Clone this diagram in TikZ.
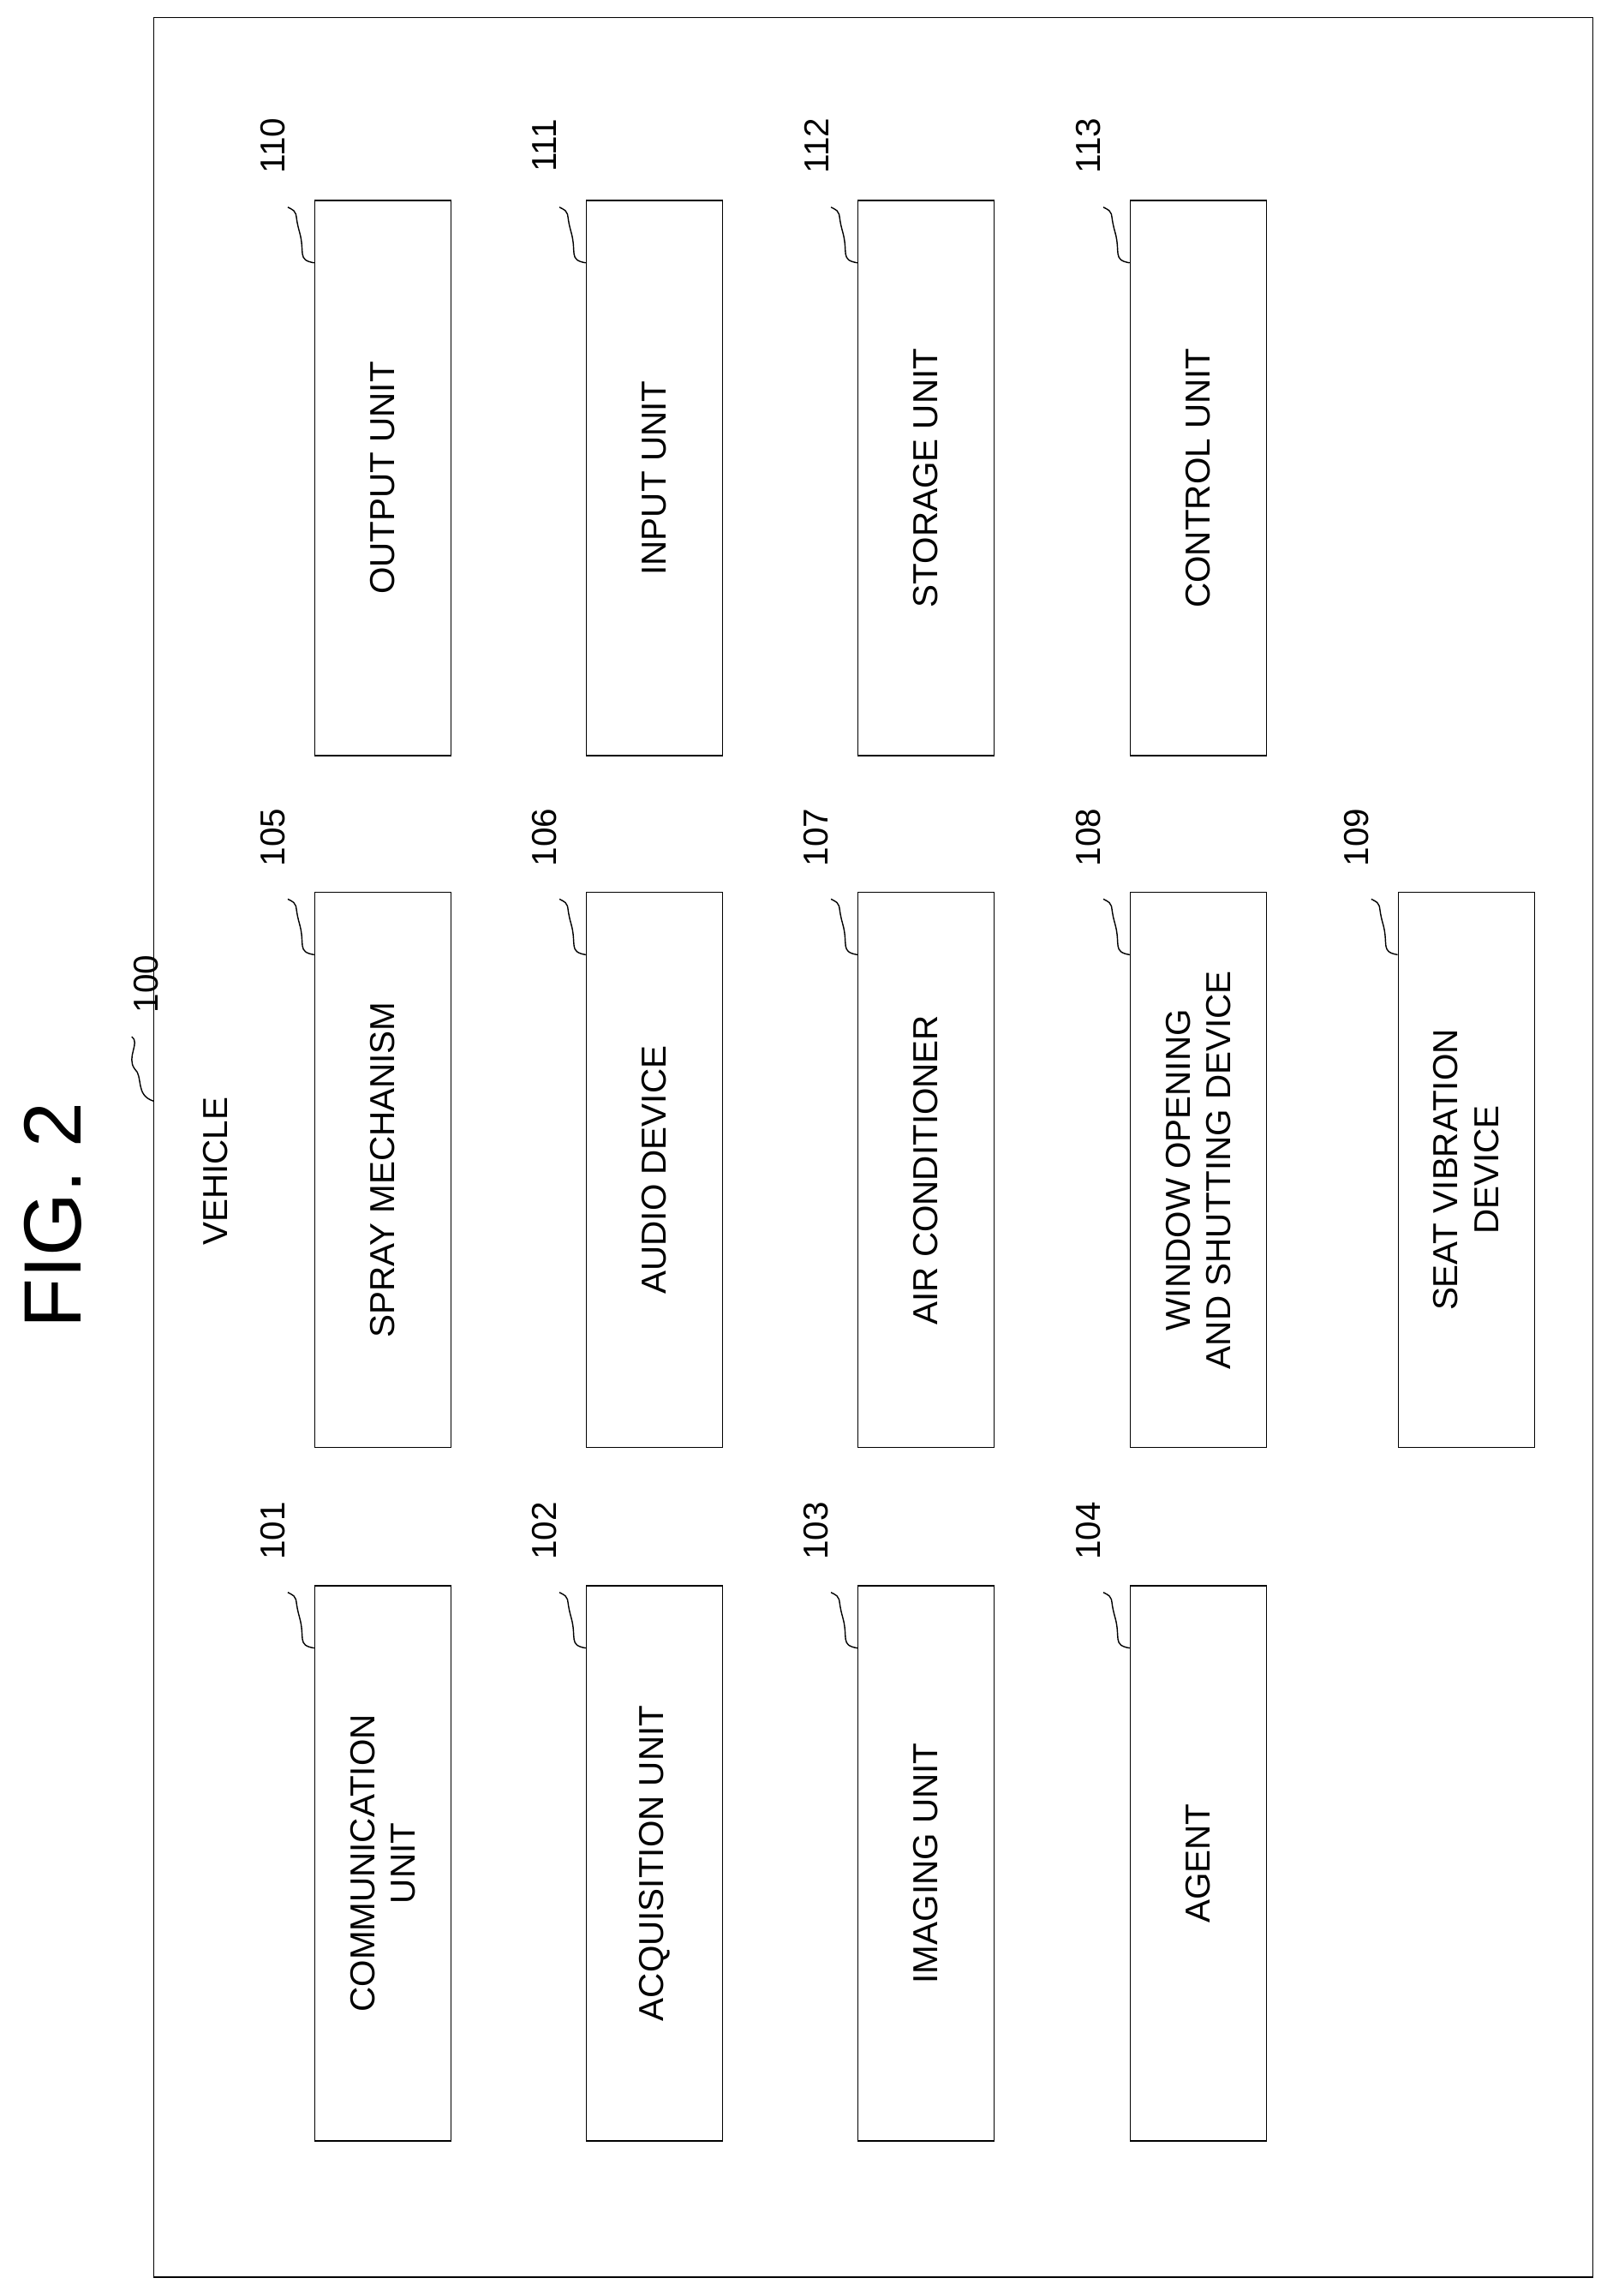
\documentclass[tikz,border=0pt]{standalone}
\usepackage{fontspec}
\setmainfont{Liberation Sans}
\usetikzlibrary{calc,positioning}
\newcommand{\refnum}[2]{%
  \draw[thin] ($(#1.north east)+(0,-43)$) .. controls +(-12,2) and +(4,-14) .. ($(#1.north east)+(-10,-22)$)
    .. controls +(-4,14) and +(8,-4) .. ($(#1.north east)+(-18,-5)$);
  \node[num] at ($(#1.north east)+(-28,37)$) {#2};}
\begin{document}
\begin{tikzpicture}[x=0.01709cm,y=0.01709cm]
    \tikzstyle{unit}=[draw=black,thin,rotate=90,align=center,inner sep=0pt,
      minimum width=6.48cm,minimum height=1.59cm,font=\fontsize{11.5}{13.5}\selectfont]
    \tikzstyle{num}=[rotate=90,font=\fontsize{11.5}{13.5}\selectfont]

    \useasboundingbox (0,0) rectangle (1097,-1568);
    \draw[thin] (105,-12) rectangle (1088,-1555);
    \node[rotate=90,font=\fontsize{27}{30}\selectfont] (fig) at (36,-830) {FIG. 2};
    \node[rotate=90,font=\fontsize{11.5}{13.5}\selectfont] (vehicle) at (147,-800) {VEHICLE};
    \node[num] (n100) at (100,-672) {100};
    \draw[thin] (105,-752) .. controls (92,-748) and (98,-735) .. (92,-730)
      .. controls (86,-722) and (96,-712) .. (90,-708);

    % top row
    \node[unit](output) at (261.5,-326.5){OUTPUT UNIT};
    \node[unit](input) at (447,-326.5){INPUT UNIT};
    \node[unit](storage) at (632.5,-326.5){STORAGE UNIT};
    \node[unit](control) at (818.5,-326.5){CONTROL UNIT};
    % middle row
    \node[unit](spray) at (261.5,-799){SPRAY MECHANISM};
    \node[unit](audio) at (447,-799){AUDIO DEVICE};
    \node[unit](aircon) at (632.5,-799){AIR CONDITIONER};
    \node[unit](window) at (818.5,-799){WINDOW OPENING\\AND SHUTTING DEVICE};
    \node[unit](seat) at (1001.5,-799){SEAT VIBRATION\\DEVICE};
    % bottom row
    \node[unit](comm) at (261.5,-1272.5){COMMUNICATION\\UNIT};
    \node[unit](acq) at (447,-1272.5){ACQUISITION UNIT};
    \node[unit](imaging) at (632.5,-1272.5){IMAGING UNIT};
    \node[unit](agent) at (818.5,-1272.5){AGENT};

    \refnum{output}{110}
    \refnum{input}{111}
    \refnum{storage}{112}
    \refnum{control}{113}
    \refnum{spray}{105}
    \refnum{audio}{106}
    \refnum{aircon}{107}
    \refnum{window}{108}
    \refnum{seat}{109}
    \refnum{comm}{101}
    \refnum{acq}{102}
    \refnum{imaging}{103}
    \refnum{agent}{104}
\end{tikzpicture}
\end{document}
